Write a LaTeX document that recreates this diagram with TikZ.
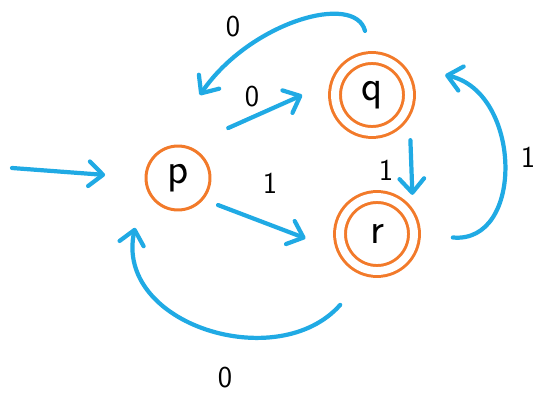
\documentclass[tikz,border=0pt]{standalone}
\usetikzlibrary{arrows.meta}
\definecolor{penorange}{RGB}{242,122,42}
\definecolor{penblue}{RGB}{32,170,228}
\tikzset{
  state/.style={circle, draw=penorange, line width=1.7pt, minimum size=1.28cm,
    inner sep=0pt, outer sep=0pt, font=\sffamily\Huge},
  accepting/.style={state, double=white, double distance=4.5pt, minimum size=1.48cm},
  edge/.style={penblue, line width=2.4pt, line cap=round,
    -{Straight Barb[length=8pt,width=14pt,round]}},
  lbl/.style={font=\sffamily\LARGE}
}
\begin{document}
\begin{tikzpicture}[x=0.02cm,y=0.02cm]
    \useasboundingbox (0,0) rectangle (536,392);
    % states
    \node[state] (p) at (178,214) {p};
    \node[accepting] (q) at (372,297) {q};
    \node[accepting] (r) at (377,158) {r};
    \coordinate (in) at (12,224);
    % start
    \draw[edge, shorten >=0.82cm] (in) -- (p.180);
    % straight moves
    \draw[edge, shorten <=0.93cm, shorten >=0.8cm] (p.76) -- (q.154);
    \draw[edge, shorten <=0.34cm, shorten >=0.86cm] (p.-41) -- (r.212);
    \draw[edge, shorten <=0.84cm, shorten >=0.68cm] (q.-5) -- (r.8);
    % bent moves
    \draw[edge, shorten <=0.56cm, shorten >=1.34cm] (q.north) .. controls (355,400) and (250,370) .. (p.120);
    \draw[edge, shorten <=0.78cm, shorten >=1.12cm] (r.0) .. controls (525,148) and (522,300) .. (q.60);
    \draw[edge, shorten <=0.92cm, shorten >=1.02cm] (r.260) .. controls (278,16.6) and (113.8,67.5) .. (p.180);
    % labels
    \node[lbl] (l-pq) at (252,295) {0};
    \node[lbl] (l-pr) at (270,209) {1};
    \node[lbl] (l-qr) at (386,222) {1};
    \node[lbl] (l-qp) at (233,365) {0};
    \node[lbl] (l-rq) at (528,235) {1};
    \node[lbl] (l-rp) at (225,14) {0};
  \end{tikzpicture}
\end{document}
